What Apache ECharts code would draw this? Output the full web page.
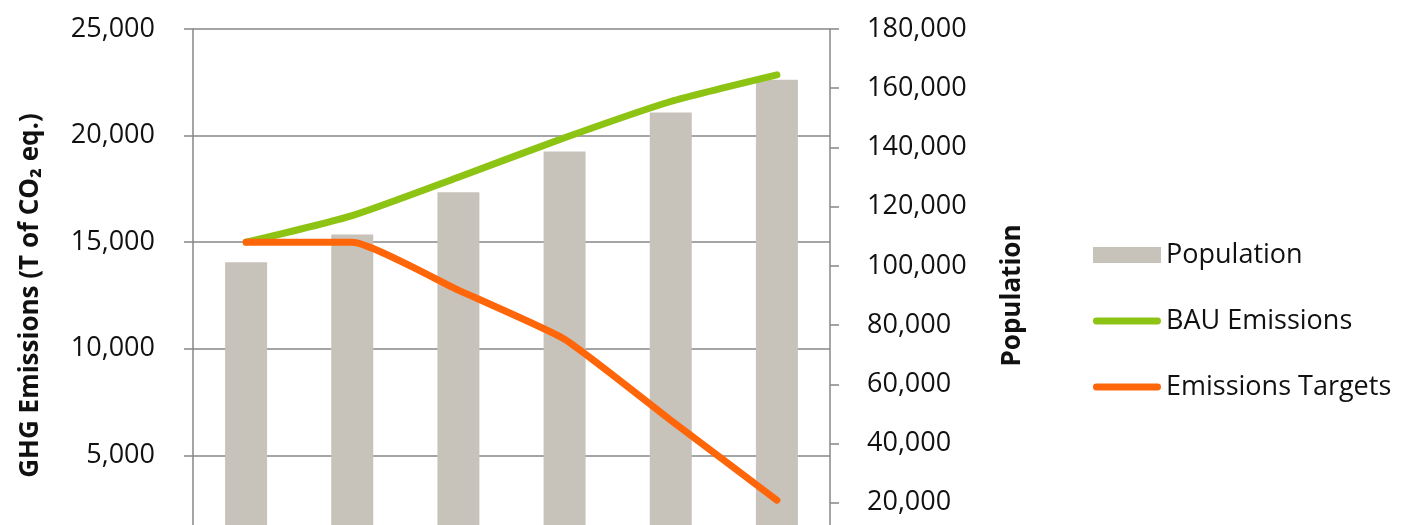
<!DOCTYPE html>
<html>
<head>
<meta charset="utf-8">
<script src="https://cdn.jsdelivr.net/npm/echarts@6/dist/echarts.min.js"></script>
<style>
  html, body { margin: 0; padding: 0; background: #fff; overflow: hidden; }
  #chart { width: 1407px; height: 600px; }
</style>
</head>
<body>
<div id="chart"></div>
<script>
// ---- data ----
const categories = ['2011', '2015', '2020', '2025', '2030', '2035'];
const population = [101200, 110600, 124900, 138600, 151800, 162900];
const bauEmissions = [15000, 16250, 18050, 19900, 21600, 22850];
const emissionTargets = [15000, 15000, 12750, 10450, 6650, 2900];
const seriesNames = ['Population', 'BAU Emissions', 'Emissions Targets'];
const leftAxisName = 'GHG Emissions (T of CO\u2082 eq.)';
const rightAxisName = 'Population';

const FONT = '"Open Sans", "Noto Sans", sans-serif';
const GRID = '#878787';
const fmt = v => Number(v).toLocaleString('en-US');
const LINE_ICON = 'path://M3.5,0H66.5A3.5,3.5 0 0 1 66.5,7H3.5A3.5,3.5 0 0 1 3.5,0Z';

const chart = echarts.init(document.getElementById('chart'), null, { renderer: 'canvas' });
chart.setOption({
  animation: false,
  backgroundColor: '#ffffff',
  textStyle: { fontFamily: FONT },
  grid: { left: 193, right: 577, top: 29, bottom: 38, containLabel: false },
  legend: {
    orient: 'vertical',
    left: 1093,
    top: 240,
    padding: 0,
    itemWidth: 68,
    itemHeight: 16,
    itemGap: 36,
    symbolKeepAspect: true,
    data: [
      { name: seriesNames[0], icon: 'rect' },
      { name: seriesNames[1], icon: LINE_ICON },
      { name: seriesNames[2], icon: LINE_ICON }
    ],
    textStyle: { fontFamily: FONT, fontSize: 27, color: '#111', lineHeight: 30 }
  },
  xAxis: {
    type: 'category',
    data: categories,
    boundaryGap: true,
    axisLine: { show: true, lineStyle: { color: GRID, width: 1.5 } },
    axisTick: { show: false },
    axisLabel: { show: false },
    splitLine: { show: false }
  },
  yAxis: [
    {
      type: 'value',
      min: 0, max: 25000, interval: 5000,
      name: leftAxisName,
      nameLocation: 'middle',
      nameGap: 149,
      nameRotate: 90,
      nameTextStyle: { fontFamily: FONT, fontSize: 26, fontWeight: 'bold', color: '#111' },
      axisLine: { show: true, lineStyle: { color: GRID, width: 1.5 } },
      axisTick: { show: true, inside: false, length: 9, lineStyle: { color: GRID, width: 1.5 } },
      axisLabel: { margin: 38, fontFamily: FONT, fontSize: 27, color: '#111', formatter: fmt },
      splitLine: { show: true, lineStyle: { color: GRID, width: 1.5 } }
    },
    {
      type: 'value',
      min: 0, max: 180000, interval: 20000,
      name: rightAxisName,
      nameLocation: 'middle',
      nameGap: 170,
      nameRotate: 90,
      nameTextStyle: { fontFamily: FONT, fontSize: 26, fontWeight: 'bold', color: '#111' },
      axisLine: { show: true, lineStyle: { color: GRID, width: 1.5 } },
      axisTick: { show: true, inside: false, length: 9, lineStyle: { color: GRID, width: 1.5 } },
      axisLabel: { margin: 37, fontFamily: FONT, fontSize: 27, color: '#111', formatter: fmt },
      splitLine: { show: false }
    }
  ],
  series: [
    {
      name: seriesNames[0],
      type: 'bar',
      yAxisIndex: 1,
      data: population,
      barWidth: 42,
      itemStyle: { color: '#C8C3BA' },
      z: 2
    },
    {
      name: seriesNames[1],
      type: 'line',
      yAxisIndex: 0,
      data: bauEmissions,
      symbol: 'none',
      smooth: 0.2,
      lineStyle: { color: '#8DC414', width: 7, cap: 'round', join: 'round' },
      itemStyle: { color: '#8DC414' },
      z: 3
    },
    {
      name: seriesNames[2],
      type: 'line',
      yAxisIndex: 0,
      data: emissionTargets,
      symbol: 'none',
      smooth: 0.15,
      lineStyle: { color: '#FF660A', width: 7, cap: 'round', join: 'round' },
      itemStyle: { color: '#FF660A' },
      z: 4
    }
  ]
});
</script>
</body>
</html>
